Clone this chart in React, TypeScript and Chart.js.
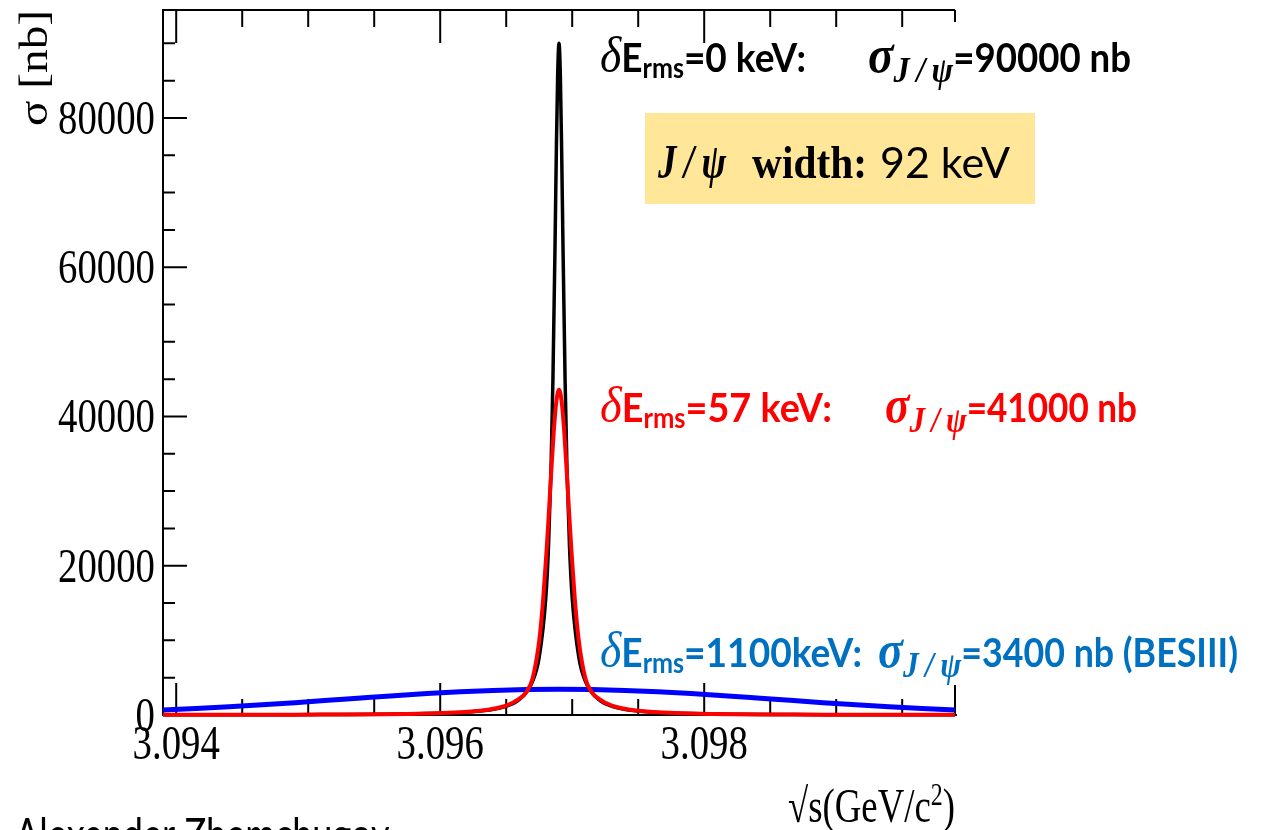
import React, { useEffect, useRef } from "react";
import { Chart, registerables } from "chart.js";

Chart.register(...registerables);

// ---------- data ----------
const energyBlack = [
  3.0939, 3.0949, 3.0959, 3.0963, 3.0965, 3.0966, 3.0967, 3.09675, 3.0968, 3.09682, 3.09684, 3.096854,
  3.09687, 3.09688, 3.09689, 3.0969, 3.09691, 3.09692, 3.09693, 3.096946, 3.09696, 3.09698, 3.097,
  3.09705, 3.0971, 3.0972, 3.0973, 3.0975, 3.0979, 3.0989, 3.0999,
];
const sigmaBlack = [
  21, 48, 190, 525, 1175, 2070, 4520, 7740, 15700, 22400, 33300, 45000, 63100, 75700, 85900, 90000,
  85900, 75700, 63100, 45000, 33300, 22400, 15700, 7740, 4520, 2070, 1175, 525, 190, 48, 21,
];

const energyRed = [
  3.0939, 3.0949, 3.0959, 3.0963, 3.0965, 3.0966, 3.09665, 3.0967, 3.09675, 3.09678, 3.096805, 3.09682,
  3.09684, 3.09686, 3.09688, 3.0969, 3.09692, 3.09694, 3.09696, 3.09698, 3.096995, 3.09702, 3.09705,
  3.0971, 3.09715, 3.0972, 3.0973, 3.0975, 3.0979, 3.0989, 3.0999,
];
const sigmaRed = [
  20, 46, 200, 560, 1250, 2200, 3000, 4900, 9950, 15500, 21800, 26100, 32200, 37900, 42000, 43600,
  42000, 37900, 32200, 26100, 21800, 15500, 9950, 4900, 3000, 2200, 1250, 560, 200, 46, 20,
];

const energyBlue = [
  3.0939, 3.09415, 3.0944, 3.09465, 3.0949, 3.09515, 3.0954, 3.09565, 3.0959, 3.09615, 3.0964, 3.09665,
  3.0969, 3.09715, 3.0974, 3.09765, 3.0979, 3.09815, 3.0984, 3.09865, 3.0989, 3.09915, 3.0994, 3.09965,
  3.0999,
];
const sigmaBlue = [
  661, 861, 1095, 1362, 1655, 1966, 2282, 2590, 2871, 3112, 3295, 3411, 3450, 3411, 3295, 3112, 2871,
  2590, 2282, 1966, 1655, 1362, 1095, 861, 661,
];

const xMajorTicks = [3.094, 3.096, 3.098];
const xMinorTicks = [3.0945, 3.095, 3.0955, 3.0965, 3.097, 3.0975, 3.0985, 3.099, 3.0995];
const yMajorTicks = [0, 20000, 40000, 60000, 80000];
const yMinorTicks = [
  5000, 10000, 15000, 25000, 30000, 35000, 45000, 50000, 55000, 65000, 70000, 75000, 85000, 90000,
];
const xTickLabels = ["3.094", "3.096", "3.098"];
const yTickLabels = ["0", "20000", "40000", "60000", "80000"];

const X_MIN = 3.0939;
const X_MAX = 3.0999;
const Y_MIN = 0;
const Y_MAX = 94470;

// ---------- text helpers ----------
type Piece = { t: string; f: string; dy?: number };

function drawText(
  ctx: CanvasRenderingContext2D,
  s: string,
  font: string,
  x: number,
  y: number,
  align: CanvasTextAlign,
  sx: number,
  sy: number,
  color: string
) {
  ctx.save();
  ctx.font = font;
  ctx.fillStyle = color;
  ctx.textAlign = align;
  ctx.textBaseline = "alphabetic";
  ctx.translate(x, y);
  ctx.scale(sx, sy);
  ctx.fillText(s, 0, 0);
  ctx.restore();
}

function drawRun(
  ctx: CanvasRenderingContext2D,
  pieces: Piece[],
  x0: number,
  x1: number,
  y: number,
  color: string,
  sy: number
) {
  ctx.save();
  const widths: number[] = [];
  let total = 0;
  for (const p of pieces) {
    ctx.font = p.f;
    const w = ctx.measureText(p.t).width;
    widths.push(w);
    total += w;
  }
  const sx = (x1 - x0) / total;
  ctx.fillStyle = color;
  ctx.textAlign = "left";
  ctx.textBaseline = "alphabetic";
  ctx.translate(x0, y);
  ctx.scale(sx, sy);
  let cx = 0;
  pieces.forEach((p, i) => {
    ctx.font = p.f;
    ctx.fillText(p.t, cx, (p.dy || 0) / sy);
    cx += widths[i];
  });
  ctx.restore();
}

const SERIF = '"Liberation Serif", "DejaVu Serif", serif';
const F_DELTA = `italic 42px ${SERIF}`;
const F_SIG = `italic bold 44px ${SERIF}`;
const F_JP = `italic bold 30px ${SERIF}`;
const F_B = "bold 34px Lato";
const F_SUB = "bold 23px Lato";
const F_TICK = `40px ${SERIF}`;
const JPSI_SUB = "J\u2009/\u2009ψ";

const framePlugin = {
  id: "rootFrame",
  beforeDatasetsDraw(chart: any) {
    const ctx: CanvasRenderingContext2D = chart.ctx;
    const xs = chart.scales.x;
    const ys = chart.scales.y;
    const { left, right, top, bottom } = chart.chartArea;
    ctx.save();
    ctx.strokeStyle = "#000";
    ctx.lineWidth = 2;
    ctx.beginPath();
    // frame
    ctx.moveTo(left, top);
    ctx.lineTo(left, bottom);
    ctx.moveTo(left - 1, bottom);
    ctx.lineTo(right + 2, bottom);
    ctx.moveTo(left - 1, top);
    ctx.lineTo(right, top);
    ctx.moveTo(right, top);
    ctx.lineTo(right, top + 12);
    ctx.moveTo(right, bottom);
    ctx.lineTo(right, bottom - 30);
    // x ticks bottom & top
    for (const v of xMajorTicks) {
      const px = xs.getPixelForValue(v);
      ctx.moveTo(px, bottom);
      ctx.lineTo(px, bottom - 32);
      ctx.moveTo(px, top);
      ctx.lineTo(px, top + 33);
    }
    for (const v of xMinorTicks) {
      const px = xs.getPixelForValue(v);
      ctx.moveTo(px, bottom);
      ctx.lineTo(px, bottom - 16);
      ctx.moveTo(px, top);
      ctx.lineTo(px, top + 17);
    }
    // y ticks
    for (const v of yMajorTicks) {
      const py = ys.getPixelForValue(v);
      ctx.moveTo(left, py);
      ctx.lineTo(left + 24, py);
    }
    for (const v of yMinorTicks) {
      const py = ys.getPixelForValue(v);
      ctx.moveTo(left, py);
      ctx.lineTo(left + 12, py);
    }
    ctx.stroke();
    ctx.restore();
  },
  afterDraw(chart: any) {
    const ctx: CanvasRenderingContext2D = chart.ctx;
    const xs = chart.scales.x;
    const ys = chart.scales.y;
    const { left, bottom } = chart.chartArea;

    // tick labels
    yMajorTicks.forEach((v, i) => {
      const py = ys.getPixelForValue(v);
      drawText(ctx, yTickLabels[i], F_TICK, left - 8, py + 16, "right", 0.97, 1.22, "#000");
    });
    xMajorTicks.forEach((v, i) => {
      const px = xs.getPixelForValue(v);
      drawText(ctx, xTickLabels[i], F_TICK, px, bottom + 44, "center", 0.97, 1.2, "#000");
    });

    // axis titles
    drawRun(
      ctx,
      [
        { t: "√s(GeV/c", f: `40px ${SERIF}` },
        { t: "2", f: `26px ${SERIF}`, dy: -17 },
        { t: ")", f: `40px ${SERIF}` },
      ],
      788,
      955,
      822,
      "#000",
      1.2
    );
    ctx.save();
    ctx.translate(47, 126);
    ctx.rotate(-Math.PI / 2);
    drawRun(ctx, [{ t: "σ [nb]", f: `40px ${SERIF}` }], 0, 116, 0, "#000", 1.0);
    ctx.restore();

    // annotations
    const lineA = (val: string, x1: number, y: number, color: string) =>
      drawRun(
        ctx,
        [
          { t: "δ", f: F_DELTA },
          { t: "E", f: F_B },
          { t: "rms", f: F_SUB, dy: 6 },
          { t: val, f: F_B },
        ],
        600,
        x1,
        y,
        color,
        1.2
      );
    const lineB = (val: string, x0: number, x1: number, y: number, color: string) =>
      drawRun(
        ctx,
        [
          { t: "σ", f: F_SIG },
          { t: JPSI_SUB, f: F_JP, dy: 10 },
          { t: val, f: F_B },
        ],
        x0,
        x1,
        y,
        color,
        1.2
      );

    lineA("=0 keV:", 806, 72, "#000000");
    lineB("=90000 nb", 868, 1131, 72, "#000000");
    lineA("=57 keV:", 832, 422, "#ff0000");
    lineB("=41000 nb", 885, 1137, 422, "#ff0000");
    lineA("=1100keV:", 862, 667, "#0070c0");
    lineB("=3400 nb (BESIII)", 878, 1238, 667, "#0070c0");

    // width box
    ctx.save();
    ctx.fillStyle = "#ffe699";
    ctx.fillRect(645, 113, 390, 91);
    ctx.restore();
    drawRun(ctx, [{ t: "J\u2009/\u2009ψ", f: `italic bold 40px ${SERIF}` }], 658, 726, 178, "#000", 1.2);
    drawRun(ctx, [{ t: "width:", f: `bold 38px ${SERIF}` }], 752, 867, 178, "#000", 1.2);
    drawRun(ctx, [{ t: "92 keV", f: "36px Lato" }], 880, 1010, 178, "#000", 1.2);

    // clipped footer text
    drawText(ctx, "Alexander Zhemchugov", "38px Lato", 15, 851, "left", 0.95, 1.2, "#000");
  },
};

export default function App() {
  const canvasRef = useRef<HTMLCanvasElement | null>(null);

  useEffect(() => {
    if (!canvasRef.current) return;
    const toXY = (xs: number[], ys: number[]) => xs.map((x, i) => ({ x, y: ys[i] }));
    const chart = new Chart(canvasRef.current, {
      type: "line",
      data: {
        datasets: [
          {
            label: "δE=0",
            data: toXY(energyBlack, sigmaBlack),
            borderColor: "#000000",
            borderWidth: 3.5,
            pointRadius: 0,
            cubicInterpolationMode: "monotone",
            order: 2,
            clip: false as any,
          },
          {
            label: "δE=57",
            data: toXY(energyRed, sigmaRed),
            borderColor: "#ff0000",
            borderWidth: 4,
            pointRadius: 0,
            cubicInterpolationMode: "monotone",
            order: 1,
            clip: false as any,
          },
          {
            label: "δE=1100",
            data: toXY(energyBlue, sigmaBlue),
            borderColor: "#0000ff",
            borderWidth: 5,
            pointRadius: 0,
            cubicInterpolationMode: "monotone",
            order: 3,
            clip: false as any,
          },
        ],
      },
      options: {
        animation: false,
        responsive: false,
        devicePixelRatio: 1,
        layout: { padding: { left: 0, right: 306, top: 10, bottom: 0 } },
        plugins: { legend: { display: false }, tooltip: { enabled: false } },
        events: [],
        scales: {
          x: {
            type: "linear",
            min: X_MIN,
            max: X_MAX,
            grid: { display: false },
            border: { display: false },
            ticks: { display: false },
            afterFit: (s: any) => {
              s.height = 115;
            },
          },
          y: {
            type: "linear",
            min: Y_MIN,
            max: Y_MAX,
            grid: { display: false },
            border: { display: false },
            ticks: { display: false },
            afterFit: (s: any) => {
              s.width = 163;
            },
          },
        },
      },
      plugins: [framePlugin],
    });
    return () => chart.destroy();
  }, []);

  return (
    <div style={{ position: "fixed", left: 0, top: 0, width: 1261, height: 830, background: "#fff" }}>
      <canvas ref={canvasRef} width={1261} height={830} style={{ display: "block" }} />
    </div>
  );
}
